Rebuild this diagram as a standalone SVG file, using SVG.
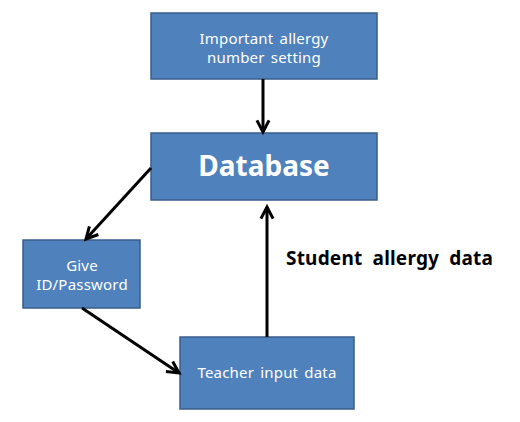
<svg xmlns="http://www.w3.org/2000/svg" width="520" height="422" viewBox="0 0 520 422">
<style>
.box{fill:#4F81BD;stroke:#385D8A;stroke-width:1.5}
.t{fill:#fff;font-family:"Noto Sans","Open Sans",sans-serif;font-size:15px;text-anchor:middle;word-spacing:2px;letter-spacing:0.2px}
.c{stroke:#000;stroke-width:3;fill:none}
</style>
<defs>
<marker id="ah" viewBox="0 0 12 12" refX="11" refY="6" markerWidth="14" markerHeight="14" orient="auto" markerUnits="userSpaceOnUse" overflow="visible">
<path d="M1,0.8 L11,6 L1,11.2" fill="none" stroke="#000" stroke-width="2.6" stroke-linejoin="miter"/>
</marker>
</defs>
<rect width="520" height="422" fill="#fff"/>
<g id="n-top"><rect class="box" x="151" y="13" width="226" height="66"/>
<text class="t" x="264" y="44">Important allergy</text>
<text class="t" x="264" y="63">number setting</text></g>
<g id="n-db"><rect class="box" x="151" y="133" width="226" height="67"/>
<text class="t" x="264" y="176" style="font-size:28px;font-weight:bold;letter-spacing:0">Database</text></g>
<g id="n-give"><rect class="box" x="23" y="240" width="117" height="68"/>
<text class="t" x="82" y="271">Give</text>
<text class="t" x="82" y="290">ID/Password</text></g>
<g id="n-teacher"><rect class="box" x="180" y="337" width="174" height="72"/>
<text class="t" x="267" y="378">Teacher input data</text></g>
<g id="connectors">
<line class="c" x1="263" y1="79" x2="263" y2="132" marker-end="url(#ah)"/>
<line class="c" x1="151" y1="168" x2="86" y2="239" marker-end="url(#ah)"/>
<line class="c" x1="82" y1="308" x2="179" y2="373" marker-end="url(#ah)"/>
<line class="c" x1="267" y1="337" x2="267" y2="207" marker-end="url(#ah)"/>
</g>
<text x="286" y="265" style="font-family:'Noto Sans','Open Sans',sans-serif;font-weight:bold;font-size:19px;fill:#000;word-spacing:5px;letter-spacing:0.2px">Student allergy data</text>
</svg>
